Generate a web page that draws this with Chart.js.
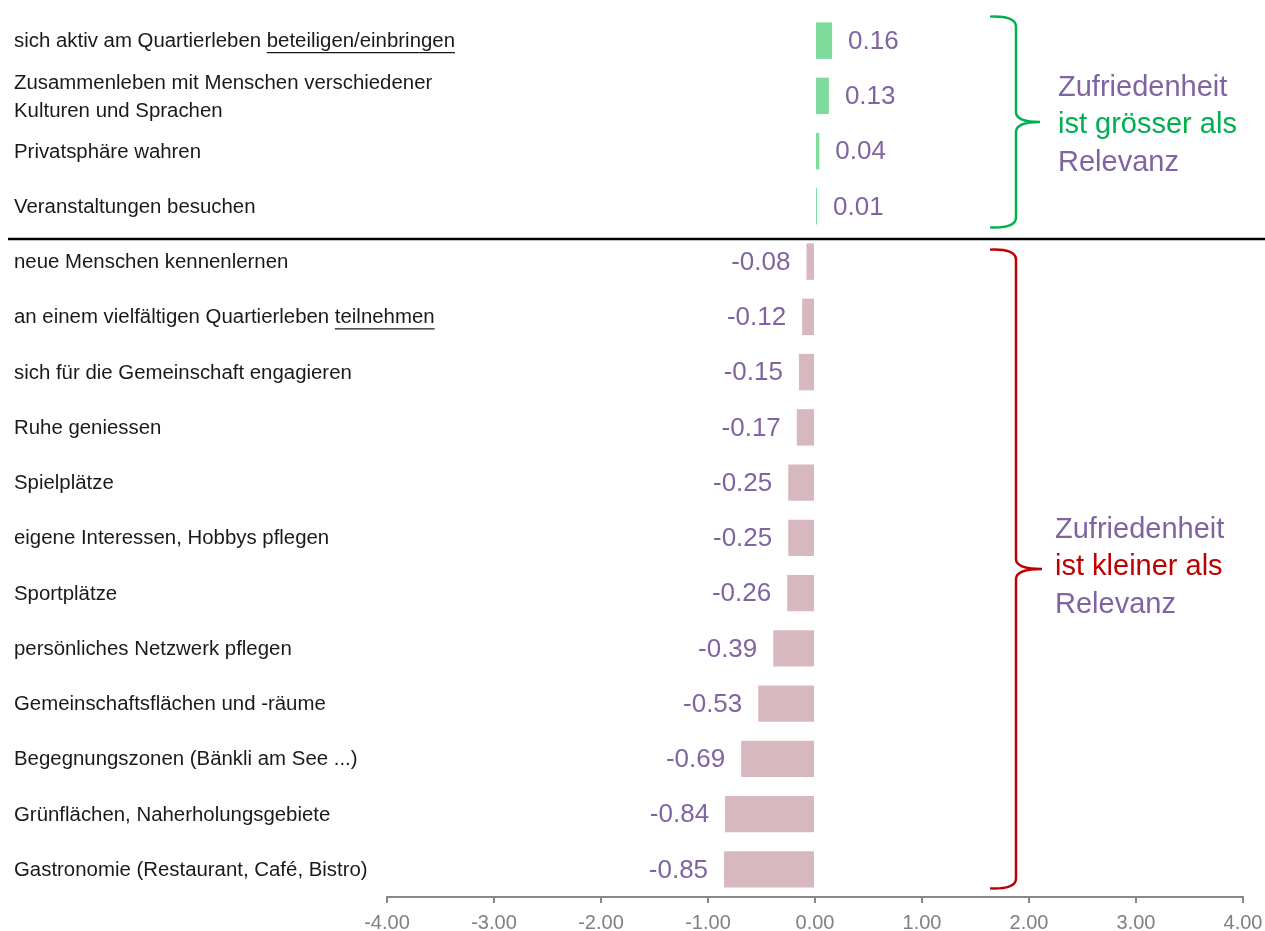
<!DOCTYPE html>
<html>
<head>
<meta charset="utf-8">
<script src="https://cdn.jsdelivr.net/npm/chart.js@4"></script>
<style>
  body { margin: 0; background: #fff; overflow: hidden; }
  canvas { display: block; }
</style>
</head>
<body>
<canvas id="gapChart" width="1265" height="943"></canvas>
<script>
// Differenz Zufriedenheit - Relevanz
const categories = [
    'sich aktiv am Quartierleben beteiligen/einbringen',
    ['Zusammenleben mit Menschen verschiedener', 'Kulturen und Sprachen'],
    'Privatsphäre wahren',
    'Veranstaltungen besuchen',
    'neue Menschen kennenlernen',
    'an einem vielfältigen Quartierleben teilnehmen',
    'sich für die Gemeinschaft engagieren',
    'Ruhe geniessen',
    'Spielplätze',
    'eigene Interessen, Hobbys pflegen',
    'Sportplätze',
    'persönliches Netzwerk pflegen',
    'Gemeinschaftsflächen und -räume',
    'Begegnungszonen (Bänkli am See ...)',
    'Grünflächen, Naherholungsgebiete',
    'Gastronomie (Restaurant, Café, Bistro)'
];
const differences = [0.16, 0.13, 0.04, 0.01, -0.08, -0.12, -0.15, -0.17, -0.25, -0.25, -0.26, -0.39, -0.53, -0.69, -0.84, -0.85];
const underlined = { 0: 'beteiligen/einbringen', 5: 'teilnehmen' };
const xTicks = [-4, -3, -2, -1, 0, 1, 2, 3, 4];
const positiveCount = 4;

const PURPLE = '#8064a2';
const GREEN_TXT = '#00b050';
const RED_TXT = '#c00000';
const LABEL_FONT = "20px 'Liberation Sans', Arial, sans-serif";
const VALUE_FONT = "26px 'Liberation Sans', Arial, sans-serif";

// category labels on the far left (squeezed to look like a narrow font)
const labelPlugin = {
    id: 'leftLabels',
    afterDraw(chart) {
        const ctx = chart.ctx;
        const y = chart.scales.y;
        ctx.save();
        ctx.font = LABEL_FONT;
        const sx = 441 / ctx.measureText(categories[0]).width;
        ctx.translate(14, 0);
        ctx.scale(sx, 1);
        ctx.fillStyle = '#1a1a1a';
        ctx.textBaseline = 'middle';
        ctx.textAlign = 'left';
        categories.forEach((lab, i) => {
            const cy = y.getPixelForValue(i);
            const lines = Array.isArray(lab) ? lab : [lab];
            const shift = lines.length > 1 ? 2 : 1;
            lines.forEach((line, j) => {
                const ly = cy + shift + (j - (lines.length - 1) / 2) * 28;
                ctx.fillText(line, 0, ly);
                if (underlined[i]) {
                    const w = underlined[i];
                    const start = line.indexOf(w);
                    if (start >= 0) {
                        const x0 = ctx.measureText(line.slice(0, start)).width;
                        const x1 = x0 + ctx.measureText(w).width;
                        ctx.strokeStyle = '#1a1a1a';
                        ctx.lineWidth = 1.2;
                        ctx.beginPath();
                        ctx.moveTo(x0, ly + 11);
                        ctx.lineTo(x1, ly + 11);
                        ctx.stroke();
                    }
                }
            });
        });
        ctx.restore();
    }
};

// value labels next to the bar ends
const valuePlugin = {
    id: 'valueLabels',
    afterDatasetsDraw(chart) {
        const ctx = chart.ctx;
        const meta = chart.getDatasetMeta(0);
        ctx.save();
        ctx.font = VALUE_FONT;
        ctx.fillStyle = PURPLE;
        ctx.textBaseline = 'middle';
        meta.data.forEach((bar, i) => {
            const v = differences[i];
            if (v >= 0) {
                ctx.textAlign = 'left';
                ctx.fillText(v.toFixed(2), bar.x + 16, bar.y + 1);
            } else {
                ctx.textAlign = 'right';
                ctx.fillText(v.toFixed(2), bar.x - 16, bar.y + 1);
            }
        });
        ctx.restore();
    }
};

function drawBrace(ctx, x, top, bottom, tipX, color) {
    const mid = (top + bottom) / 2;
    const r = 10;
    ctx.strokeStyle = color;
    ctx.lineWidth = 2.5;
    ctx.beginPath();
    ctx.moveTo(x - 26, top);
    ctx.quadraticCurveTo(x, top - 1, x, top + r);
    ctx.lineTo(x, mid - r);
    ctx.quadraticCurveTo(x, mid, tipX, mid);
    ctx.quadraticCurveTo(x, mid, x, mid + r);
    ctx.lineTo(x, bottom - r);
    ctx.quadraticCurveTo(x, bottom + 1, x - 26, bottom);
    ctx.stroke();
}

// divider line, braces and their notes
const groupPlugin = {
    id: 'groups',
    afterDraw(chart) {
        const ctx = chart.ctx;
        const y = chart.scales.y;
        const lastPos = y.getPixelForValue(positiveCount - 1);
        const firstNeg = y.getPixelForValue(positiveCount);
        const divY = (lastPos + firstNeg) / 2 + 5;
        ctx.save();
        ctx.strokeStyle = '#000';
        ctx.lineWidth = 2.5;
        ctx.beginPath();
        ctx.moveTo(8, divY);
        ctx.lineTo(1265, divY);
        ctx.stroke();

        const gTop = y.getPixelForValue(0) - 24;
        const gBot = lastPos + 21;
        const rTop = firstNeg - 12;
        const rBot = y.getPixelForValue(categories.length - 1) + 19;
        drawBrace(ctx, 1016, gTop, gBot, 1040, '#00b050');
        drawBrace(ctx, 1016, rTop, rBot, 1042, RED_TXT);

        ctx.font = "29px 'Liberation Sans', Arial, sans-serif";
        ctx.textAlign = 'left';
        ctx.textBaseline = 'middle';
        const gMid = (gTop + gBot) / 2;
        const notes1 = [['Zufriedenheit', PURPLE], ['ist grösser als', GREEN_TXT], ['Relevanz', PURPLE]];
        notes1.forEach(([t, c], j) => {
            ctx.fillStyle = c;
            ctx.fillText(t, 1058, gMid + 3 + (j - 1) * 37.5);
        });
        const rMid = (rTop + rBot) / 2;
        const notes2 = [['Zufriedenheit', PURPLE], ['ist kleiner als', RED_TXT], ['Relevanz', PURPLE]];
        notes2.forEach(([t, c], j) => {
            ctx.fillStyle = c;
            ctx.fillText(t, 1055, rMid - 2 + (j - 1) * 37.5);
        });
        ctx.restore();
    }
};

const ctx = document.getElementById('gapChart').getContext('2d');
new Chart(ctx, {
    type: 'bar',
    data: {
        labels: categories,
        datasets: [{
            data: differences,
            backgroundColor: differences.map(v => v >= 0 ? '#7ddc9b' : '#d8b8bf'),
            borderWidth: 0,
            minBarLength: 2,
            barPercentage: 0.66,
            categoryPercentage: 1.0
        }]
    },
    options: {
        indexAxis: 'y',
        responsive: false,
        animation: false,
        layout: { padding: { left: 387, right: 22, top: 13, bottom: 0 } },
        plugins: {
            legend: { display: false },
            tooltip: { enabled: false }
        },
        scales: {
            x: {
                min: -4,
                max: 4,
                afterBuildTicks: (scale) => { scale.ticks = xTicks.map(v => ({ value: v })); },
                afterFit: (scale) => { scale.paddingLeft = 0; scale.paddingRight = 0; },
                grid: { drawOnChartArea: false, drawTicks: true, tickLength: 6, color: '#888', lineWidth: 2 },
                border: { display: true, color: '#888', width: 2 },
                ticks: {
                    color: '#808080',
                    font: { family: "'Liberation Sans', Arial, sans-serif", size: 20 },
                    padding: 8,
                    maxRotation: 0,
                    callback: (v) => Number(v).toFixed(2)
                }
            },
            y: { display: false }
        }
    },
    plugins: [labelPlugin, valuePlugin, groupPlugin]
});
</script>
</body>
</html>
